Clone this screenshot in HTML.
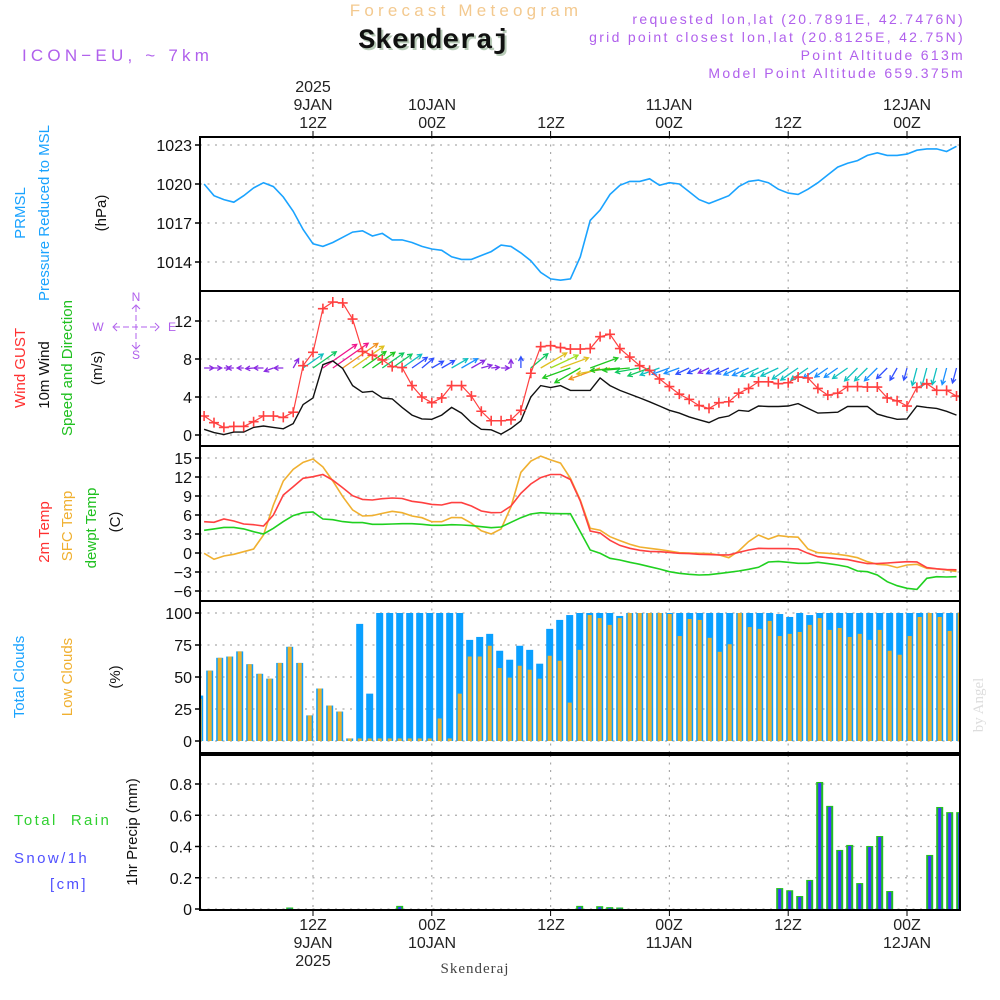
<!DOCTYPE html>
<html><head><meta charset="utf-8"><style>
html,body{margin:0;padding:0;background:#fff;}
svg{display:block;font-family:"Liberation Sans",sans-serif;}
</style></head><body>
<svg id="chart" width="1000" height="1000" viewBox="0 0 1000 1000" xmlns="http://www.w3.org/2000/svg">
<defs>
<clipPath id="c1"><rect x="200" y="137" width="760" height="154"/></clipPath>
<clipPath id="c2"><rect x="200" y="291" width="760" height="155"/></clipPath>
<clipPath id="c3"><rect x="200" y="446" width="760" height="155"/></clipPath>
<clipPath id="c4"><rect x="200" y="601" width="760" height="152"/></clipPath>
<clipPath id="c5"><rect x="200" y="755" width="760" height="155"/></clipPath>
</defs>
<!-- header -->
<text x="466" y="16" text-anchor="middle" font-size="17" fill="#f3c98f" letter-spacing="4.2">Forecast Meteogram</text>
<text x="436" y="50" text-anchor="middle" font-size="28" font-weight="bold" font-family="Liberation Mono, monospace" fill="#b8cbb8">Skenderaj</text>
<text x="434" y="48" text-anchor="middle" font-size="28" font-weight="bold" font-family="Liberation Mono, monospace" fill="#111">Skenderaj</text>
<g fill="#b060ec" font-size="14" text-anchor="end" letter-spacing="2.3">
<text x="965" y="24">requested lon,lat (20.7891E, 42.7476N)</text>
<text x="965" y="42">grid point closest lon,lat (20.8125E, 42.75N)</text>
<text x="965" y="60">Point Altitude 613m</text>
<text x="965" y="78">Model Point Altitude 659.375m</text>
</g>
<text x="22" y="61" font-size="17" fill="#b060ec" letter-spacing="4.2">ICON−EU, ~ 7km</text>
<!-- top time labels -->
<g font-size="16" fill="#222" text-anchor="middle">
<text x="313" y="92">2025</text><text x="313" y="110">9JAN</text><text x="313" y="128">12Z</text>
<text x="432" y="110">10JAN</text><text x="432" y="128">00Z</text>
<text x="551" y="128">12Z</text>
<text x="669" y="110">11JAN</text><text x="669" y="128">00Z</text>
<text x="788" y="128">12Z</text>
<text x="907" y="110">12JAN</text><text x="907" y="128">00Z</text>
</g>
<g font-size="16" fill="#222" text-anchor="middle">
<text x="313" y="930">12Z</text><text x="313" y="948">9JAN</text><text x="313" y="966">2025</text>
<text x="432" y="930">00Z</text><text x="432" y="948">10JAN</text>
<text x="551" y="930">12Z</text>
<text x="669" y="930">00Z</text><text x="669" y="948">11JAN</text>
<text x="788" y="930">12Z</text>
<text x="907" y="930">00Z</text><text x="907" y="948">12JAN</text>
</g>
<text x="475" y="973" text-anchor="middle" font-size="15" font-family="Liberation Serif, serif" fill="#444" letter-spacing="1">Skenderaj</text>
<text x="983" y="705" text-anchor="middle" font-size="15" font-family="Liberation Serif, serif" fill="#ddd" transform="rotate(-90 983 705)">by Angel</text>
<!-- left labels -->
<g font-size="15">
<text x="25" y="213" text-anchor="middle" fill="#1aa3ff" transform="rotate(-90 25 213)">PRMSL</text>
<text x="49" y="213" text-anchor="middle" fill="#1aa3ff" transform="rotate(-90 49 213)">Pressure Reduced to MSL</text>
<text x="106" y="213" text-anchor="middle" fill="#111" transform="rotate(-90 106 213)">(hPa)</text>
<text x="25" y="368" text-anchor="middle" fill="#ff3030" transform="rotate(-90 25 368)">Wind GUST</text>
<text x="49" y="375" text-anchor="middle" fill="#111" transform="rotate(-90 49 375)">10m Wind</text>
<text x="72" y="368" text-anchor="middle" fill="#20c020" transform="rotate(-90 72 368)">Speed and Direction</text>
<text x="102" y="368" text-anchor="middle" fill="#111" transform="rotate(-90 102 368)">(m/s)</text>
<text x="49" y="532" text-anchor="middle" fill="#ff3030" transform="rotate(-90 49 532)">2m Temp</text>
<text x="72" y="526" text-anchor="middle" fill="#f0b030" transform="rotate(-90 72 526)">SFC Temp</text>
<text x="96" y="528" text-anchor="middle" fill="#20c020" transform="rotate(-90 96 528)">dewpt Temp</text>
<text x="120" y="522" text-anchor="middle" fill="#111" transform="rotate(-90 120 522)">(C)</text>
<text x="24" y="677" text-anchor="middle" fill="#1aa3ff" transform="rotate(-90 24 677)">Total Clouds</text>
<text x="72" y="677" text-anchor="middle" fill="#f0b030" transform="rotate(-90 72 677)">Low Clouds</text>
<text x="120" y="677" text-anchor="middle" fill="#111" transform="rotate(-90 120 677)">(%)</text>
<text x="137" y="832" text-anchor="middle" fill="#111" transform="rotate(-90 137 832)">1hr Precip (mm)</text>
<text x="14" y="825" fill="#30d030" letter-spacing="2.4" xml:space="preserve">Total  Rain</text>
<text x="14" y="863" fill="#5050ff" letter-spacing="2.4">Snow/1h</text>
<text x="50" y="889" fill="#5050ff" letter-spacing="2.4">[cm]</text>
</g>
<g fill="#b060ec" stroke="#b060ec" font-size="12">
<text x="136" y="301" text-anchor="middle" stroke="none">N</text>
<text x="136" y="359" text-anchor="middle" stroke="none">S</text>
<text x="98" y="331" text-anchor="middle" stroke="none">W</text>
<text x="172" y="331" text-anchor="middle" stroke="none">E</text>
<line x1="114" y1="327" x2="158" y2="327" stroke-dasharray="6,3" fill="none"/>
<line x1="136" y1="306" x2="136" y2="348" stroke-dasharray="6,3" fill="none"/>
<polyline points="117,323 113,327 117,331" fill="none"/><polyline points="155,323 159,327 155,331" fill="none"/>
<polyline points="132,309 136,305 140,309" fill="none"/><polyline points="132,345 136,349 140,345" fill="none"/>
</g>
<g id="plots"></g>
</svg>
<script>
// ---- data (hourly, h = 1..77 hours from 00Z 9JAN) ----
const pressure = [1020.0,1019.1,1018.8,1018.6,1019.1,1019.7,1020.1,1019.8,1019.0,1017.9,1016.5,1015.4,1015.2,1015.5,1015.9,1016.3,1016.4,1016.0,1016.2,1015.7,1015.7,1015.5,1015.2,1015.0,1014.9,1014.4,1014.2,1014.2,1014.5,1014.8,1015.3,1015.2,1014.7,1014.1,1013.2,1012.7,1012.6,1012.7,1014.4,1017.2,1018.0,1019.2,1019.9,1020.2,1020.2,1020.4,1019.9,1020.1,1020.0,1019.4,1018.8,1018.5,1018.8,1019.1,1019.8,1020.2,1020.3,1020.1,1019.6,1019.3,1019.2,1019.6,1020.1,1020.7,1021.3,1021.6,1021.8,1022.2,1022.4,1022.2,1022.2,1022.3,1022.6,1022.7,1022.7,1022.5,1022.9];
const wind10m = [0.6,0.25,0.05,0.3,0.3,0.8,0.95,0.8,0.65,1.2,3.2,3.9,7.4,7.8,7.0,5.2,4.5,4.6,3.9,3.8,2.9,2.1,1.7,1.65,2.1,2.9,2.3,1.3,0.6,0.55,0.1,0.7,1.5,4.0,5.2,5.0,5.2,4.7,4.7,4.7,6.0,5.2,4.7,4.3,3.9,3.5,3.05,2.6,2.3,1.9,1.6,1.3,1.8,2.0,2.6,2.5,3.05,3.0,3.0,3.05,3.3,2.8,2.3,2.35,2.4,3.0,3.0,3.0,2.2,1.9,1.65,1.7,3.05,2.9,2.8,2.5,2.1];
const gust = [2.0,1.3,0.8,0.9,0.9,1.4,2.0,2.0,1.85,2.4,7.3,8.7,13.3,14.0,13.9,12.2,8.8,8.4,7.9,7.2,7.1,5.2,4.0,3.4,3.9,5.2,5.2,4.1,2.5,1.5,1.5,1.6,2.6,6.5,9.3,9.4,9.2,9.05,9.05,9.1,10.35,10.6,9.1,8.2,7.3,6.8,5.9,5.1,4.3,3.75,3.1,2.8,3.4,3.5,4.4,4.9,5.6,5.6,5.4,5.5,6.1,6.0,4.9,4.2,4.4,5.1,5.1,5.05,5.05,3.9,3.6,3.05,5.0,5.4,4.7,4.7,4.1];
const windDir = [0,0,0,180,180,185,180,200,180,60,35,35,35,35,35,35,35,35,35,35,35,35,40,30,30,30,30,30,15,5,0,90,90,40,30,25,20,200,210,20,200,190,185,185,190,200,200,200,200,205,205,205,205,205,205,205,205,205,205,215,215,215,215,215,215,215,225,225,225,225,240,255,255,255,255,255,255];
const temp2m = [4.94,4.85,5.37,5.05,4.58,4.47,4.26,6.0,9.16,10.47,11.8,12.05,12.4,11.5,10.3,9.05,8.47,8.37,8.58,8.68,8.6,8.16,7.95,7.68,7.58,7.95,7.95,7.42,6.63,6.37,6.4,7.42,9.42,10.9,11.9,12.4,12.4,11.6,8.2,3.47,3.16,2.0,1.2,0.74,0.42,0.26,0.2,0.1,-0.05,-0.1,-0.2,-0.26,-0.3,-0.3,0.1,0.47,0.74,0.7,0.7,0.7,0.63,-0.05,-0.58,-0.74,-0.9,-1.05,-1.37,-1.68,-1.68,-1.58,-1.47,-1.37,-1.4,-2.3,-2.5,-2.6,-2.65];
const sfcTemp = [-0.05,-1.0,-0.47,-0.2,0.2,0.63,2.84,7.58,11.37,13.2,14.3,14.84,13.6,11.37,8.9,6.8,5.84,5.9,6.26,6.58,6.37,5.84,5.58,4.94,4.94,5.6,5.58,4.7,3.5,3.0,3.8,7.3,12.74,14.5,15.3,14.7,14.2,11.8,8.37,3.9,3.6,2.58,1.95,1.37,0.95,0.74,0.53,0.32,0.05,0.0,-0.05,-0.1,-0.3,-0.74,0.32,1.8,2.84,2.2,2.74,2.58,2.5,0.63,0.05,-0.05,-0.2,-0.42,-0.74,-1.37,-1.79,-1.9,-2.3,-1.9,-1.79,-2.42,-2.5,-2.7,-2.9];
const dewpt = [3.58,3.8,4.05,4.05,3.8,3.37,3.0,3.9,4.95,5.9,6.37,6.47,5.37,5.26,4.95,4.8,4.8,4.53,4.53,4.58,4.63,4.63,4.53,4.37,4.37,4.47,4.42,4.32,4.16,4.0,4.1,4.84,5.58,6.16,6.37,6.26,6.2,6.2,3.37,0.47,-0.05,-0.84,-1.1,-1.47,-1.79,-2.16,-2.53,-2.95,-3.2,-3.37,-3.47,-3.42,-3.26,-3.05,-2.84,-2.58,-2.26,-1.42,-1.32,-1.47,-1.63,-1.63,-1.47,-1.68,-1.9,-2.2,-2.84,-2.95,-3.47,-4.53,-5.16,-5.58,-5.74,-4.0,-3.74,-3.79,-3.74];
// ---- bar data (k = 0..76) ----
const totalClouds = [35.5,55,65,66,70,60,52.5,48.7,61,73.6,61,20,41,27.7,23,2,91.5,37,100,100,100,100,100,100,100,100,100,79,81.3,83.7,70.5,63.5,74.4,71.2,60.4,87.6,94.6,98.4,100,100,100,100,97.7,100,100,100,100,100,100,100,100,100,100,100,100,100,100,100,99.2,96.9,100,98.4,100,100,100,100,100,100,100,100,100,100,100,100,100,100,100];
const lowClouds = [33,55,65,66,70,60,52.5,48.7,61,73.6,61,20,41,27.7,23,2,2,2,2,2,2,2,2,2,17.6,2,37,66,66,74.4,57,49.5,58.8,55.7,48.7,66.6,62.7,30,71.2,98.4,96,90.7,96,100,100,100,100,99.2,82,95.3,94.6,80.6,69.7,75.6,100,89,87.6,93.8,82,83.7,85.2,90.7,96,86.8,88.3,81.3,83.7,79,86.8,70.5,67.4,82,96.9,100,96.9,86,100];
const precip = [0,0,0,0,0,0,0,0,0,0.005,0,0,0,0,0,0,0,0,0,0,0.02,0,0,0,0,0,0,0,0,0,0,0,0,0,0,0,0,0,0.02,0,0.018,0.012,0.008,0,0,0,0,0,0,0,0,0,0,0,0,0,0,0,0.134,0.12,0.083,0.186,0.813,0.66,0.378,0.41,0.166,0.403,0.467,0.115,0,0,0,0.346,0.653,0.62,0.62];
const pTicks = [1023,1020,1017,1014];
const wTicks = [0,4,8,12];
const tTicks = [15,12,9,6,3,0,-3,-6];
const cTicks = [100,75,50,25,0];
const rTicks = [0,0.2,0.4,0.6,0.8];
const timeGrid = [12,24,36,48,60,72];

// ---- scales ----
const xs = h => 194.2 + 9.9*h;
const xb = k => 199.7 + 10*k;
const yP = p => 145 + (1023-p)*13;
const yW = v => 435 - v*9.5;
const yT = t => 458 + (15-t)*19/3;
const yC = c => 741 - c*1.28;
const yR = r => 909 - r*156.25;

const NS='http://www.w3.org/2000/svg';
const root=document.getElementById('plots');
function mk(tag,attrs,parent){const e=document.createElementNS(NS,tag);for(const k in attrs)e.setAttribute(k,attrs[k]);(parent||root).appendChild(e);return e;}
function linePts(arr,fy){return arr.map((v,i)=>xs(i+1).toFixed(1)+','+fy(v).toFixed(1)).join(' ');}

const panels=[
 {top:137,bot:291,clip:'c1',ticks:pTicks,fy:yP,fmt:v=>v,name:'pressure'},
 {top:291,bot:446,clip:'c2',ticks:wTicks,fy:yW,fmt:v=>v,name:'wind'},
 {top:446,bot:601,clip:'c3',ticks:tTicks,fy:yT,fmt:v=>v<0?'−'+(-v):v,name:'temperature'},
 {top:601,bot:753,clip:'c4',ticks:cTicks,fy:yC,fmt:v=>v,name:'clouds'},
 {top:755,bot:910,clip:'c5',ticks:rTicks,fy:yR,fmt:v=>v===0?'0':v.toFixed(1),name:'precip'}
];
panels.forEach(p=>{
  const g=mk('g',{});
  
  
  p.ticks.forEach(t=>{
    const y=p.fy(t);
    mk('line',{x1:200,x2:960,y1:y,y2:y,stroke:'#aaa','stroke-width':1.2,'stroke-dasharray':'2,5.5'},g);
    mk('line',{x1:195,x2:200,y1:y,y2:y,stroke:'#000','stroke-width':1.5},g);
    const tx=mk('text',{x:192,y:y+6,'text-anchor':'end','font-size':16,fill:'#111'},g);
    tx.textContent=p.fmt(t);
  });
  timeGrid.forEach(h=>{
    mk('line',{x1:xs(h),x2:xs(h),y1:p.top,y2:p.bot,stroke:'#aaa','stroke-width':1.2,'stroke-dasharray':'2,5.5'},g);
  });
});
// time ticks
timeGrid.forEach(h=>{
  mk('line',{x1:xs(h),x2:xs(h),y1:131,y2:137,stroke:'#000','stroke-width':1});
  mk('line',{x1:xs(h),x2:xs(h),y1:910,y2:916,stroke:'#000','stroke-width':1});
});

// pressure
const pl=mk('polyline',{points:linePts(pressure,yP),fill:'none',stroke:'#1aa3ff','stroke-width':1.6,'clip-path':'url(#c1)'});



// wind arrows
function arrowColor(s){ if(s<1.5)return '#8a2be2'; if(s<2.2)return '#3050ff'; if(s<2.7)return '#1a90ff'; if(s<3.4)return '#10c0c0'; if(s<4.2)return '#10c860'; if(s<4.8)return '#20c820'; if(s<5.1)return '#a0e020'; if(s<6)return '#e0c020'; if(s<7.2)return '#f09020'; return '#f0148c';}
const wg=mk('g',{'clip-path':'url(#c2)'});


windDir.forEach((d,i)=>{
  const s=wind10m[i], L=4+2.8*gust[i], a=d*Math.PI/180;
  const x0=xs(i+1), y0=368, x1=x0+L*Math.cos(a), y1=y0-L*Math.sin(a);
  const c=arrowColor(s);
  const ah=5, b1=a+Math.PI-0.5, b2=a+Math.PI+0.5;
  const ar=mk('path',{d:`M${x0},${y0}L${x1},${y1}M${x1+ah*Math.cos(b1)},${y1-ah*Math.sin(b1)}L${x1},${y1}L${x1+ah*Math.cos(b2)},${y1-ah*Math.sin(b2)}`,stroke:c,'stroke-width':1.3,fill:'none'},wg);
  
  
});
const wl=mk('polyline',{points:linePts(wind10m,yW),fill:'none',stroke:'#111','stroke-width':1.4,'clip-path':'url(#c2)'});


const gl=mk('polyline',{points:linePts(gust,yW),fill:'none',stroke:'#ff4040','stroke-width':1.2,'clip-path':'url(#c2)'});


const gm=mk('g',{stroke:'#ff4040','stroke-width':1.6,'clip-path':'url(#c2)'});


gust.forEach((v,i)=>{const x=xs(i+1),y=yW(v);mk('path',{d:`M${x-5},${y}H${x+5}M${x},${y-5}V${y+5}`},gm);});

// temperatures
[[sfcTemp,'#f0b030','sfc-temp-line'],[temp2m,'#ff4040','temp2m-line'],[dewpt,'#20d020','dewpt-line']].forEach(([arr,c,n])=>{
  const l=mk('polyline',{points:linePts(arr,yT),fill:'none',stroke:c,'stroke-width':1.6,'clip-path':'url(#c3)'});
  
  
});

// clouds
const cg=mk('g',{'clip-path':'url(#c4)'});


totalClouds.forEach((v,k)=>{
  const x=xb(k);
  const b=mk('rect',{x:x-3.5,y:yC(v),width:7,height:yC(0)-yC(v),fill:'#0aa0ff'},cg);
  
  
  const lv=lowClouds[k];
  const o=mk('rect',{x:x-2,y:yC(lv),width:4,height:yC(0)-yC(lv),fill:'#e8b030'},cg);
  
  
});

// precip
const rg=mk('g',{'clip-path':'url(#c5)'});


precip.forEach((v,k)=>{
  if(v<=0)return;
  const x=xb(k), h=Math.max(yR(0)-yR(v),1.5);
  const b=mk('rect',{x:x-3.5,y:yR(0)-h,width:7,height:h,fill:'#22c022'},rg);
  
  
  const s=mk('rect',{x:x-1.5,y:yR(0)-h+1,width:3,height:h-1,fill:'#3a3aff'},rg);
  
  
});

// frames
panels.forEach(p=>{
  const r=mk('rect',{x:200,y:p.top,width:760,height:p.bot-p.top,fill:'none',stroke:'#000','stroke-width':2});
  
  
});
</script>
</body></html>
